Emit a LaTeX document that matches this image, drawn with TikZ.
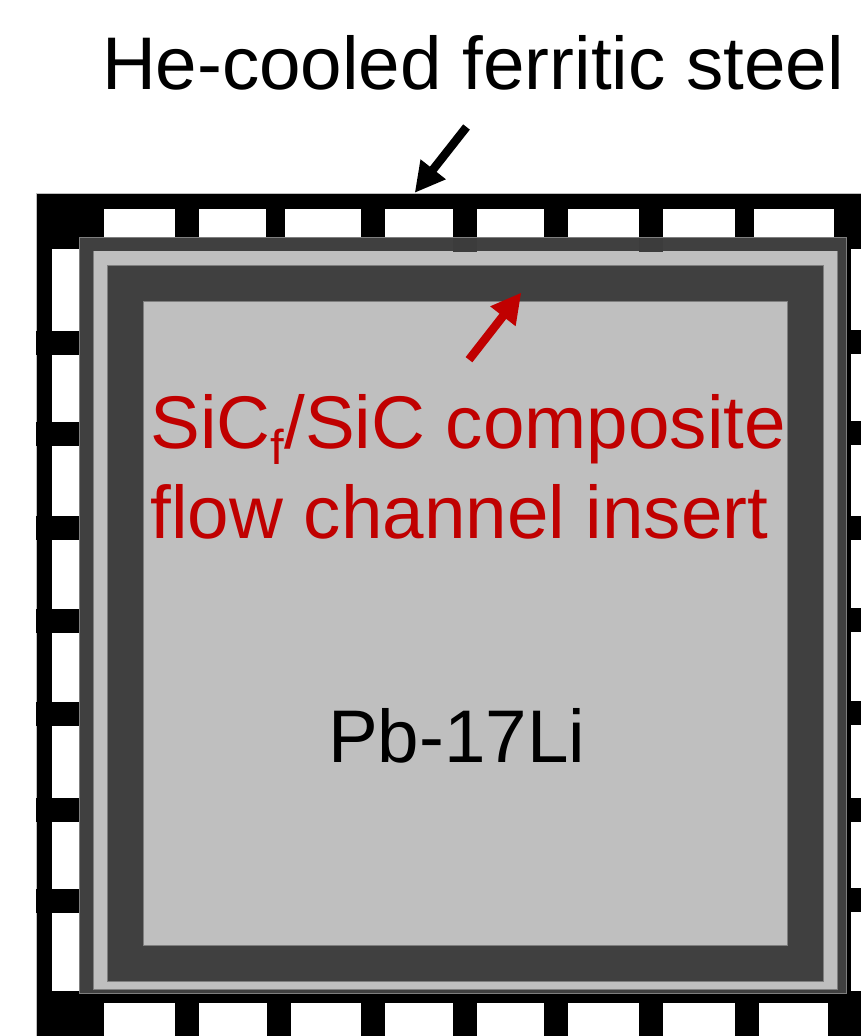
\documentclass[tikz,border=0pt]{standalone}
\usepackage{fontspec}
\setmainfont{Liberation Sans}
\usetikzlibrary{arrows.meta}
\definecolor{wallgrey}{HTML}{404040}
\definecolor{leadgrey}{HTML}{BFBFBF}
\definecolor{edgegrey}{HTML}{7F7F7F}
\definecolor{fcired}{HTML}{C00000}
\tikzset{
  cell/.style={fill=white,draw=none},
  rib/.style={fill=black,draw=none},
  darkbox/.style={fill=wallgrey,draw=edgegrey,line width=0.6pt},
  lightbox/.style={fill=leadgrey,draw=edgegrey,line width=0.6pt},
  label/.style={anchor=base west,inner sep=0pt,outer sep=0pt,font=\fontsize{74.6}{74.6}\selectfont},
  pointer/.style={line width=8.5pt,-{Triangle[length=30pt,width=30pt]},shorten >=-0.5pt}
}
\begin{document}
\begin{tikzpicture}[x=1pt,y=-1pt]
\useasboundingbox (0,0) rectangle (861,1036);
% steel frame
\fill[leadgrey] (36.3,193) rectangle (861,1036);
\fill[black] (37,193.7) rectangle (861,1036);
% top cooling cells
\foreach \a/\b in {104/175,199/266,285/361,385/453,477/544,568/639,663/735,754/834}
  \fill[cell] (\a,209) rectangle (\b,237.5);
% bottom cooling cells
\foreach \a/\b in {104/175,199/267,291/361,385/453,477/544,568/639,663/735,759/828}
  \fill[cell] (\a,1003) rectangle (\b,1036);
% left cooling cells
\foreach \a/\b in {249/331,355/422,446/516,540/609,633/702,726/798,822/889,913/991}
  \fill[cell] (52,\a) rectangle (80,\b);
% right cooling cells
\foreach \a/\b in {249/330,354/421,445/516,540/608,632/701,725/798,822/888,912/991}
  \fill[cell] (851,\a) rectangle (861,\b);
% protruding rib ends on the left
\foreach \a/\b in {331/355,422/446,516/540,609/633,702/726,798/822,889/913}
  \fill[rib] (36,\a) rectangle (52,\b);
% channel layers
\draw[darkbox] (79,237.3) rectangle (846,993);
\fill[leadgrey] (93,251) rectangle (837,989.5);
\draw[edgegrey,line width=0.6pt] (93,251) |- (837,989.5) -- (837,251);
\fill[black!6!wallgrey] (453,237.6) rectangle (477,252);
\fill[black!6!wallgrey] (639,237.6) rectangle (663,252);
\draw[darkbox] (107.3,265) rectangle (823,981);
\draw[lightbox] (143.3,301.3) rectangle (787.5,945);
% labels
\node[label] (steel) at (102,89) {He-cooled ferritic steel};
\node[label,text=fcired] (sic) at (150.5,448) {SiC\raisebox{-16pt}{\fontsize{49}{49}\selectfont f}/SiC composite};
\node[label,text=fcired] (fci) at (150.5,538) {flow channel insert};
\node[label] (pb) at (328,762) {Pb-17Li};
% pointers
\coordinate (steelstart) at (466.5,127);
\coordinate (steelend) at (415,192.5);
\coordinate (fcistart) at (469,359.7);
\coordinate (fciend) at (521,293);
\draw[pointer,black] (steelstart) -- (steelend);
\draw[pointer,fcired] (fcistart) -- (fciend);
\end{tikzpicture}
\end{document}
